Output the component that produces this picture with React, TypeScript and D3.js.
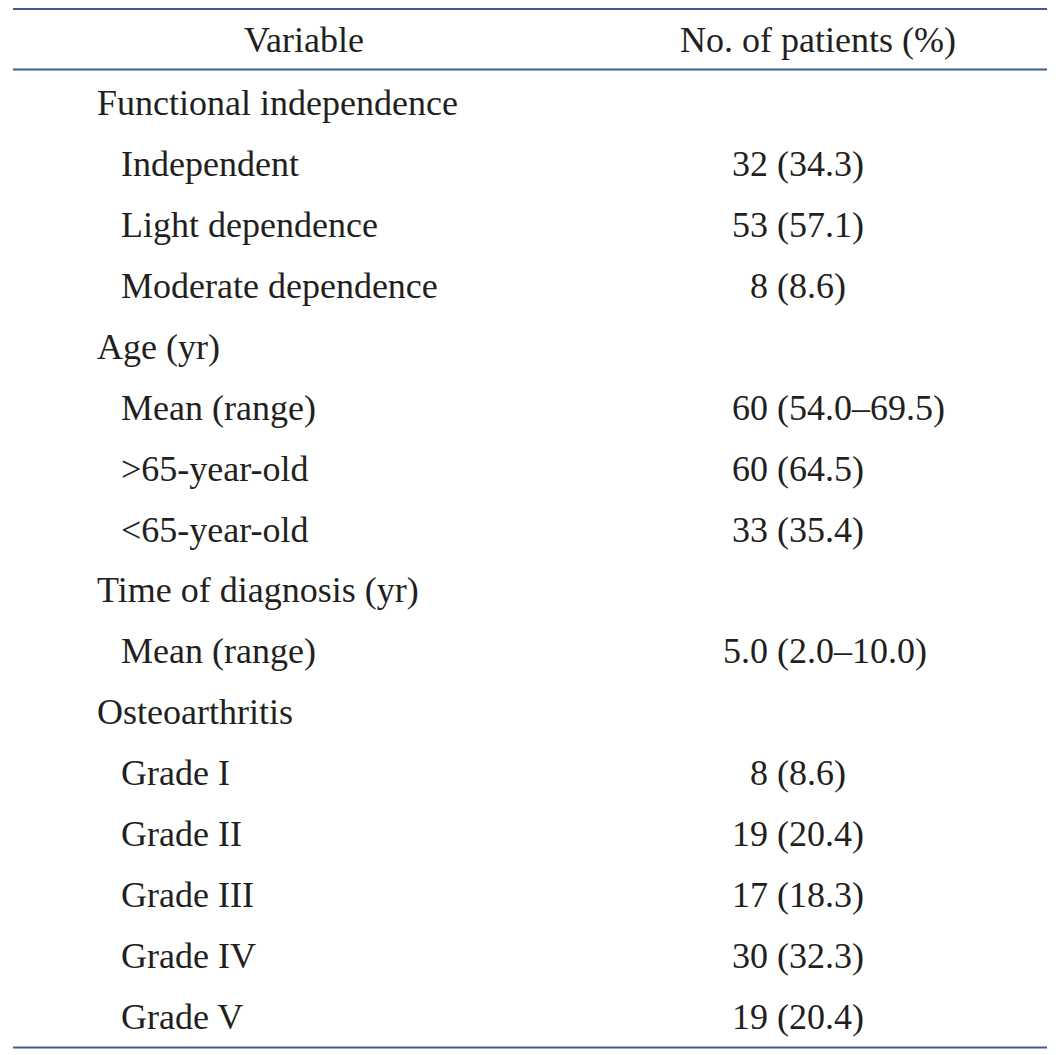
import React from "react";
import * as d3 from "d3";

const headers = ["Variable", "No. of patients (%)"];
const rowLabels = [
  "Functional independence",
  "Independent",
  "Light dependence",
  "Moderate dependence",
  "Age (yr)",
  "Mean (range)",
  ">65-year-old",
  "<65-year-old",
  "Time of diagnosis (yr)",
  "Mean (range)",
  "Osteoarthritis",
  "Grade I",
  "Grade II",
  "Grade III",
  "Grade IV",
  "Grade V",
];
const rowLevels = [0, 1, 1, 1, 0, 1, 1, 1, 0, 1, 0, 1, 1, 1, 1, 1];
const counts = ["", "32", "53", "8", "", "60", "60", "33", "", "5.0", "", "8", "19", "17", "30", "19"];
const percents = [
  "", "(34.3)", "(57.1)", "(8.6)", "", "(54.0–69.5)", "(64.5)", "(35.4)",
  "", "(2.0–10.0)", "", "(8.6)", "(20.4)", "(18.3)", "(32.3)", "(20.4)",
];

const W = 1056;
const H = 1055;
const FONT = "'Liberation Serif', 'Times New Roman', serif";
const TEXT = "#231f20";
const RULE = "#3f5c99";

export default function App() {
  const y = d3.scaleLinear().domain([0, rowLabels.length - 1]).range([115, 1029]);
  const indent = d3.scaleLinear().domain([0, 1]).range([97, 121]);
  const parenX = 777;
  const fs = 36;
  return (
    <svg
      width={W}
      height={H}
      style={{ position: "absolute", left: 0, top: 0, background: "#fff" }}
      fontFamily={FONT}
    >
      <rect x={0} y={0} width={W} height={H} fill="#fff" />
      <line x1={13} x2={1047} y1={9} y2={9} stroke={RULE} strokeWidth={2} />
      <line x1={13} x2={1047} y1={69.5} y2={69.5} stroke={RULE} strokeWidth={2} />
      <line x1={13} x2={1047} y1={1047.5} y2={1047.5} stroke={RULE} strokeWidth={2} />
      <text x={304} y={52} fontSize={fs} fill={TEXT} textAnchor="middle">{headers[0]}</text>
      <text x={818} y={52} fontSize={fs} fill={TEXT} textAnchor="middle">{headers[1]}</text>
      {rowLabels.map((lab, i) => (
        <g key={i}>
          <text x={indent(rowLevels[i])} y={y(i)} fontSize={fs} fill={TEXT}>{lab}</text>
          {counts[i] && (
            <text x={parenX - 9} y={y(i)} fontSize={fs} fill={TEXT} textAnchor="end">{counts[i]}</text>
          )}
          {percents[i] && (
            <text x={parenX} y={y(i)} fontSize={fs} fill={TEXT}>{percents[i]}</text>
          )}
        </g>
      ))}
    </svg>
  );
}
